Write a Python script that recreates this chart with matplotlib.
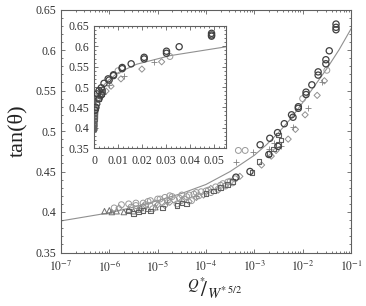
import numpy as np
import matplotlib
matplotlib.use("Agg")
import matplotlib.pyplot as plt
from matplotlib.ticker import MultipleLocator, LogLocator, NullFormatter

plt.rcParams['font.family'] = ['Liberation Serif', 'DejaVu Serif']
plt.rcParams['mathtext.fontset'] = 'stix'

# model curve (log10 x, tan theta)
curve_logx = [-7, -6.5, -6, -5.5, -5, -4.5, -4, -3.5, -3, -2.75, -2.5, -2.25, -2, -1.75, -1.5, -1.25, -1]
curve_y = [0.389, 0.394, 0.399, 0.406, 0.414, 0.423, 0.434, 0.450, 0.470, 0.483, 0.498, 0.515, 0.535, 0.556, 0.577, 0.600, 0.626]

# dark circles (log10 x, y)
circ_dark_logx = [-1.31, -1.31, -1.31, -1.45, -1.52, -1.52, -1.68, -1.68, -1.81, -1.93, -1.93,
                  -2.09, -2.09, -2.23, -2.20, -2.38, -2.52, -2.68, -2.88, -2.51, -2.70, -3.09, -3.38]
circ_dark_y = [0.632, 0.628, 0.625, 0.599, 0.588, 0.583, 0.573, 0.569, 0.557, 0.548, 0.545,
               0.530, 0.528, 0.520, 0.517, 0.509, 0.498, 0.491, 0.483, 0.481, 0.471, 0.450, 0.443]

# light circles
circ_light_logx = [-3.33, -3.19, -5.9, -5.75, -5.6, -5.45, -5.3, -5.15, -5.0, -4.85, -4.7, -4.55, -4.4,
                   -4.25, -4.1, -3.95, -3.8, -3.65, -3.5, -3.4, -5.1, -4.9, -4.6, -4.3, -1.5, -2.0,
                   -5.55, -5.45, -5.25, -5.2, -5.05, -4.95, -4.8, -4.75, -4.65, -4.5, -4.45, -4.35,
                   -4.2, -4.15, -4.0, -3.9, -3.75, -3.7, -3.6, -3.55, -3.45]
circ_light_y = [0.476, 0.476, 0.405, 0.409, 0.410, 0.408, 0.411, 0.414, 0.416, 0.418, 0.419, 0.417, 0.419,
                0.422, 0.425, 0.427, 0.431, 0.435, 0.438, 0.441, 0.404, 0.412, 0.410, 0.414, 0.575, 0.540,
                0.406, 0.411, 0.409, 0.413, 0.411, 0.416, 0.414, 0.420, 0.415, 0.421, 0.416, 0.421,
                0.424, 0.420, 0.426, 0.424, 0.428, 0.433, 0.432, 0.437, 0.436]

# triangles
tri_logx = [-6.1, -6.0, -5.95, -5.85, -5.7, -5.6, -5.5, -5.4, -5.35, -5.2, -5.05]
tri_y = [0.401, 0.402, 0.400, 0.401, 0.400, 0.403, 0.401, 0.403, 0.405, 0.404, 0.406]

# squares
sq_logx = [-5.6, -5.5, -5.4, -5.3, -5.15, -4.9, -4.6, -4.5, -4.4, -4.0, -3.85, -3.7, -3.55, -3.45,
           -3.05, -2.9, -2.7, -2.6, -2.5, -2.45, -2.5]
sq_y = [0.401, 0.398, 0.400, 0.402, 0.401, 0.405, 0.408, 0.411, 0.410, 0.423, 0.426, 0.430, 0.434, 0.438,
        0.449, 0.462, 0.472, 0.478, 0.483, 0.489, 0.495]

# diamonds
dia_logx = [-5.8, -5.3, -5.0, -4.75, -4.5, -4.2, -3.9, -3.6, -3.3, -2.85, -2.65, -2.55, -2.3,
            -2.15, -1.95, -1.7, -1.55, -4.85, -4.35, -4.05, -3.75]
dia_y = [0.405, 0.407, 0.409, 0.412, 0.414, 0.418, 0.429, 0.433, 0.444, 0.458, 0.469, 0.476, 0.490,
         0.502, 0.520, 0.544, 0.562, 0.408, 0.413, 0.421, 0.427]

# plus
plus_logx = [-3.38, -3.03, -2.7, -2.6, -2.45, -2.2, -1.9, -1.6, -4.8, -4.2, -5.4]
plus_y = [0.462, 0.474, 0.478, 0.485, 0.482, 0.505, 0.528, 0.561, 0.412, 0.420, 0.405]

main_xticks = [1e-7, 1e-6, 1e-5, 1e-4, 1e-3, 1e-2, 1e-1]
main_xticklabels = [r'$10^{-7}$', r'$10^{-6}$', r'$10^{-5}$', r'$10^{-4}$', r'$10^{-3}$', r'$10^{-2}$', r'$10^{-1}$']
yticks = [0.35, 0.4, 0.45, 0.5, 0.55, 0.6, 0.65]
ytick_labels = ['0.35', '0.4', '0.45', '0.5', '0.55', '0.6', '0.65']
inset_xticks = [0, 0.01, 0.02, 0.03, 0.04, 0.05]
inset_xticklabels = ['0', '0.01', '0.02', '0.03', '0.04', '0.05']

fig = plt.figure(figsize=(3.66, 3.06), dpi=100)
ax = fig.add_axes([61/366, 1-252.5/306, 290/366, 243/306])
ins = fig.add_axes([94/366, 1-148/306, 132/366, 122/306])

def tx(lx):
    return 10 ** np.asarray(lx)

def draw(a):
    a.plot(tx(curve_logx), curve_y, color='#909090', lw=0.8, zorder=1)
    a.scatter(tx(tri_logx), tri_y, marker='^', s=16, facecolors='none', edgecolors='#707070', linewidths=0.7, zorder=2)
    a.scatter(tx(dia_logx), dia_y, marker='D', s=10, facecolors='none', edgecolors='#909090', linewidths=0.7, zorder=2)
    a.scatter(tx(sq_logx), sq_y, marker='s', s=11, facecolors='none', edgecolors='#606060', linewidths=0.8, zorder=3)
    a.scatter(tx(plus_logx), plus_y, marker='+', s=16, color='#808080', linewidths=0.6, zorder=2)
    a.scatter(tx(circ_light_logx), circ_light_y, marker='o', s=18, facecolors='none', edgecolors='#999999', linewidths=0.7, zorder=2)
    a.scatter(tx(circ_dark_logx), circ_dark_y, marker='o', s=20, facecolors='none', edgecolors='#404040', linewidths=0.9, zorder=3)

draw(ax)
draw(ins)

for a in (ax, ins):
    for s in a.spines.values():
        s.set_color('#606060')
        s.set_linewidth(0.8)
    a.tick_params(which='both', direction='in', top=True, right=True, colors='#606060',
                  labelcolor='#333333', labelsize=8.5, width=0.6)
    a.tick_params(which='major', length=3)
    a.tick_params(which='minor', length=1.5)

ax.set_xscale('log')
ax.set_xlim(1e-7, 1e-1)
ax.set_ylim(0.35, 0.65)
ax.set_xticks(main_xticks)
ax.set_xticklabels(main_xticklabels)
ax.xaxis.set_minor_locator(LogLocator(base=10, subs=np.arange(2, 10)))
ax.xaxis.set_minor_formatter(NullFormatter())
ax.set_yticks(yticks)
ax.set_yticklabels(ytick_labels)
ax.yaxis.set_minor_locator(MultipleLocator(0.01))
ax.tick_params(axis='x', pad=5)

ins.set_xlim(0, 0.055)
ins.set_ylim(0.35, 0.65)
ins.set_xticks(inset_xticks)
ins.set_xticklabels(inset_xticklabels)
ins.xaxis.set_minor_locator(MultipleLocator(0.002))
ins.set_yticks(yticks)
ins.set_yticklabels(ytick_labels)
ins.yaxis.set_minor_locator(MultipleLocator(0.01))
ins.tick_params(axis='x', pad=5)

ax.set_ylabel('tan(θ)', fontsize=16, color='#222222', labelpad=6)
fig.text(0.585, 0.055, r'$^{Q^{*}}\!\!/_{W^{*\,5/2}}$', fontsize=15, ha='center', va='center', color='#222222')

fig.savefig('out.png', dpi=100)
